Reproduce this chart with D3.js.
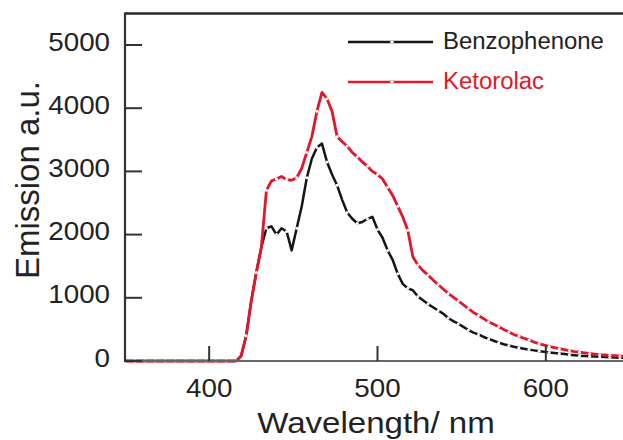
<!DOCTYPE html>
<html>
<head>
<meta charset="utf-8">
<script src="https://cdn.jsdelivr.net/npm/d3@7"></script>
<style>
body { margin: 0; background: #fff; }
text { font-family: "Liberation Sans", Arial, Helvetica, sans-serif; }
</style>
</head>
<body>
<div id="chart"></div>
<script>
// emission spectra
var wavelength = [
350,353,356,359,362,365,368,371,374,377,380,383,386,389,392,395,398,401,404,407,410,413,416,
419,422,425,428,431,434,437,440,443,446,449,452,455,458,461,464,467,470,473,476,479,482,485,488,
491,494,497,500,503,506,509,512,515,518,521,524,527,530,533,536,539,542,545,548,551,554,557,560,
563,566,569,572,575,578,581,584,587,590,593,596,599,602,605,608,611,614,617,620,623,626,629,632,
635,638,641,644,647,650];

var benzophenone = [
0,0,0,0,0,0,0,0,0,0,0,0,0,0,0,0,0,0,0,0,0,0,0,
80,400,950,1400,1800,2100,2130,2000,2100,2050,1750,2100,2450,2900,3200,3380,3440,3150,2950,2780,2550,2350,2250,2180,
2200,2250,2280,2080,1950,1750,1600,1380,1220,1150,1120,1020,960,900,850,800,750,680,630,590,540,490,450,420,
380,350,320,290,265,245,225,210,195,180,168,155,145,135,127,118,110,100,92,85,80,75,70,66,
62,58,55,52,50,48];

var ketorolac = [
0,0,0,0,0,0,0,0,0,0,0,0,0,0,0,0,0,0,0,0,0,0,0,
80,400,950,1400,1800,2700,2850,2880,2920,2870,2860,2900,3050,3300,3550,3950,4250,4150,3950,3550,3470,3400,3300,3230,
3150,3080,3000,2950,2880,2750,2620,2450,2280,2070,1650,1520,1430,1360,1280,1210,1140,1070,1010,950,890,830,770,720,
670,620,580,540,500,460,420,390,360,330,300,275,250,230,210,195,180,165,150,140,130,120,110,100,
95,90,85,80,75,70];

var seriesNames = ["Benzophenone", "Ketorolac"];
var seriesColors = ["#151515", "#e3172a"];
var xTicks = [400, 500, 600];
var yTicks = [0, 1000, 2000, 3000, 4000, 5000];

var width = 623, height = 440;

var svg = d3.select("#chart").append("svg")
    .attr("width", width)
    .attr("height", height);

var x = d3.scaleLinear().domain([350, 650]).range([125, 630]);
var y = d3.scaleLinear().domain([0, 5500]).range([361, 13.4]);

svg.append("clipPath").attr("id", "plotclip")
    .append("rect")
    .attr("x", 124).attr("y", 10)
    .attr("width", width - 124).attr("height", 360);

// curves
var line = d3.line()
    .x(function(d) { return x(d[0]) })
    .y(function(d) { return y(d[1]) });

var allSeries = [benzophenone, ketorolac];

allSeries.forEach(function(vals, k) {
    var pts = wavelength.map(function(w, i) { return [w, vals[i]] });
    var g = svg.append("g").attr("clip-path", "url(#plotclip)");
    g.append("path")
        .datum(pts)
        .attr("fill", "none")
        .attr("stroke", seriesColors[k])
        .attr("stroke-width", k == 1 ? 2.8 : 2.5)
        .attr("stroke-linejoin", "round")
        .attr("d", line);
    g.selectAll("circle")
        .data(pts.filter(function(d, i) { return i % 2 == 0 }))
        .enter().append("circle")
        .attr("cx", function(d) { return x(d[0]) })
        .attr("cy", function(d) { return y(d[1]) })
        .attr("r", 1.5)
        .attr("fill", "#fff");
});

// frame
svg.append("line")
    .attr("x1", 125).attr("x2", width)
    .attr("y1", y(5500)).attr("y2", y(5500))
    .attr("stroke", "#2a2a2a").attr("stroke-width", 2.5);

svg.append("line")
    .attr("x1", 125).attr("x2", 125)
    .attr("y1", y(5500) - 1).attr("y2", y(0) + 1)
    .attr("stroke", "#333").attr("stroke-width", 2.2);

svg.append("line")
    .attr("x1", 125).attr("x2", width)
    .attr("y1", y(0)).attr("y2", y(0))
    .attr("stroke", "#666").attr("stroke-width", 2);

// y ticks (inside)
svg.selectAll(".ytick")
    .data(yTicks).enter().append("line")
    .attr("class", "ytick")
    .attr("x1", 125).attr("x2", 142)
    .attr("y1", function(d) { return y(d) })
    .attr("y2", function(d) { return y(d) })
    .attr("stroke", "#333").attr("stroke-width", 2);

svg.selectAll(".ylabel")
    .data(yTicks).enter().append("text")
    .attr("class", "ylabel")
    .attr("transform", function(d) { return "translate(110," + (y(d) + 5.5) + ") scale(1.11,1)" })
    .attr("text-anchor", "end")
    .attr("font-size", 25)
    .attr("fill", "#222")
    .text(function(d) { return d });

// x ticks (inside)
svg.selectAll(".xtick")
    .data(xTicks).enter().append("line")
    .attr("class", "xtick")
    .attr("x1", function(d) { return x(d) })
    .attr("x2", function(d) { return x(d) })
    .attr("y1", y(0)).attr("y2", y(0) - 15)
    .attr("stroke", "#333").attr("stroke-width", 2);

svg.selectAll(".xlabel")
    .data(xTicks).enter().append("text")
    .attr("class", "xlabel")
    .attr("transform", function(d) { return "translate(" + x(d) + ",397) scale(1.11,1)" })
    .attr("text-anchor", "middle")
    .attr("font-size", 25)
    .attr("fill", "#222")
    .text(function(d) { return d });

// axis titles
svg.append("text")
    .attr("transform", "translate(376,433) scale(1.14,1)")
    .attr("text-anchor", "middle")
    .attr("font-size", 29)
    .attr("fill", "#222")
    .text("Wavelength/ nm");

svg.append("text")
    .attr("transform", "translate(39,180) rotate(-90)")
    .attr("text-anchor", "middle")
    .attr("font-size", 33)
    .attr("fill", "#222")
    .text("Emission a.u.");

// legend
var legend = svg.selectAll(".legend")
    .data(seriesNames).enter().append("g")
    .attr("class", "legend")
    .attr("transform", function(d, i) { return "translate(348," + (42 + i * 40) + ")" });

legend.append("line")
    .attr("x1", 0).attr("x2", 85)
    .attr("stroke", function(d, i) { return seriesColors[i] })
    .attr("stroke-width", 2.5);

legend.append("circle")
    .attr("cx", 44).attr("r", 1.8)
    .attr("fill", "#fff")
    .attr("stroke", "#aaa").attr("stroke-width", 0.6);

legend.append("text")
    .attr("transform", "translate(95,7) scale(1.04,1)")
    .attr("font-size", 23)
    .attr("fill", function(d, i) { return i == 0 ? "#222" : seriesColors[i] })
    .text(function(d) { return d });
</script>
</body>
</html>
